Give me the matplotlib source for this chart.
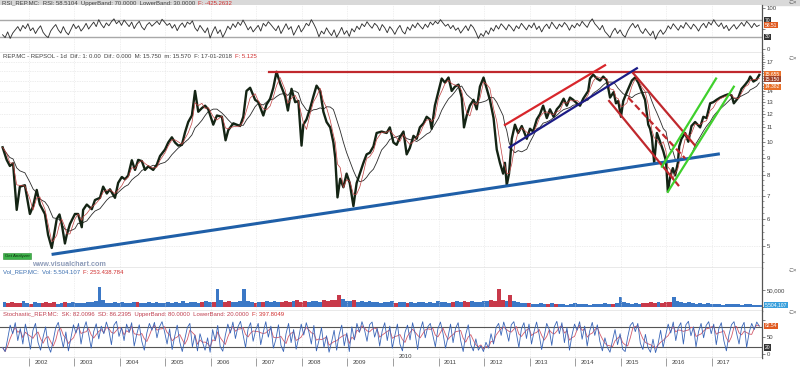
import numpy as np
import matplotlib
matplotlib.use("Agg")
import matplotlib.pyplot as plt
from matplotlib.ticker import FixedLocator, NullFormatter

plt.rcParams['font.family'] = ['Liberation Sans', 'DejaVu Sans']

# Cierre ajustado REPSOL, fecha en años decimales
dates = [2001.42, 2001.51, 2001.58, 2001.65, 2001.73, 2001.80, 2001.91, 2002.02, 2002.09, 2002.17,
         2002.24, 2002.35, 2002.42, 2002.50, 2002.53, 2002.61, 2002.67, 2002.72, 2002.79, 2002.83,
         2002.90, 2003.01, 2003.08, 2003.16, 2003.19, 2003.27, 2003.38, 2003.45, 2003.56, 2003.63,
         2003.71, 2003.78, 2003.89, 2003.96, 2004.04, 2004.11, 2004.18, 2004.26, 2004.33, 2004.40,
         2004.48, 2004.55, 2004.62, 2004.73, 2004.81, 2004.88, 2004.99, 2005.06, 2005.14, 2005.21,
         2005.28, 2005.36, 2005.43, 2005.50, 2005.58, 2005.65, 2005.72, 2005.80, 2005.87, 2005.94,
         2006.05, 2006.13, 2006.24, 2006.32, 2006.38, 2006.49, 2006.64, 2006.71, 2006.78, 2006.86,
         2006.97, 2007.04, 2007.15, 2007.22, 2007.30, 2007.37, 2007.44, 2007.52, 2007.63, 2007.69,
         2007.77, 2007.85, 2007.92, 2007.99, 2008.03, 2008.10, 2008.18, 2008.25, 2008.32, 2008.40,
         2008.47, 2008.54, 2008.62, 2008.69, 2008.73, 2008.78, 2008.84, 2008.91, 2008.98, 2009.05,
         2009.13, 2009.20, 2009.27, 2009.35, 2009.42, 2009.49, 2009.57, 2009.64, 2009.75, 2009.86,
         2009.93, 2010.01, 2010.08, 2010.15, 2010.23, 2010.30, 2010.37, 2010.45, 2010.52, 2010.59,
         2010.67, 2010.74, 2010.81, 2010.85, 2010.92, 2011.00, 2011.07, 2011.14, 2011.22, 2011.29,
         2011.36, 2011.44, 2011.51, 2011.56, 2011.62, 2011.69, 2011.77, 2011.84, 2011.91, 2011.99,
         2012.06, 2012.13, 2012.21, 2012.28, 2012.35, 2012.42, 2012.46, 2012.50, 2012.55, 2012.61,
         2012.68, 2012.75, 2012.83, 2012.94, 2013.01, 2013.08, 2013.16, 2013.23, 2013.30, 2013.38,
         2013.45, 2013.53, 2013.60, 2013.67, 2013.75, 2013.82, 2013.89, 2013.96, 2014.04, 2014.11,
         2014.18, 2014.29, 2014.33, 2014.40, 2014.48, 2014.55, 2014.62, 2014.70, 2014.77, 2014.85,
         2014.90, 2014.95, 2015.01, 2015.06, 2015.14, 2015.25, 2015.32, 2015.39, 2015.47, 2015.54,
         2015.61, 2015.65, 2015.69, 2015.74, 2015.80, 2015.87, 2015.94, 2016.00, 2016.04, 2016.09,
         2016.15, 2016.20, 2016.26, 2016.29, 2016.34, 2016.42, 2016.49, 2016.56, 2016.64, 2016.75,
         2016.82, 2016.89, 2016.97, 2017.04, 2017.11, 2017.19, 2017.30, 2017.37, 2017.44, 2017.49,
         2017.59, 2017.66, 2017.74, 2017.81, 2017.85, 2017.92, 2017.99, 2018.05]
close = [9.64, 8.87, 8.52, 8.67, 6.37, 7.43, 7.50, 6.20, 6.53, 7.27,
         6.60, 6.20, 5.40, 4.95, 5.20, 6.00, 6.18, 5.80, 5.10, 5.40,
         5.80, 6.20, 6.20, 5.68, 6.37, 6.60, 6.40, 6.80, 6.90, 7.43,
         7.10, 7.30, 6.90, 7.62, 7.92, 7.80, 8.00, 8.85, 8.30, 8.87,
         8.80, 8.30, 8.50, 8.30, 8.60, 9.10, 9.50, 9.95, 10.30, 9.95,
         9.75, 9.80, 10.65, 11.40, 11.90, 14.00, 12.20, 12.50, 12.70, 12.40,
         11.20, 11.90, 11.80, 10.10, 10.80, 11.30, 11.10, 11.80, 14.00, 14.30,
         13.20, 13.00, 11.90, 12.80, 13.30, 14.30, 15.90, 14.70, 13.50, 12.30,
         14.20, 13.00, 13.10, 9.75, 11.20, 11.60, 12.50, 13.50, 14.50, 14.00,
         12.20, 11.40, 11.00, 9.95, 9.00, 6.92, 7.83, 7.40, 8.10, 7.60,
         6.53, 7.60, 8.10, 8.70, 9.20, 9.30, 9.70, 10.60, 10.70, 10.60,
         11.00, 9.95, 9.80, 10.30, 10.70, 9.20, 9.60, 10.40, 10.20, 11.00,
         11.30, 11.80, 11.60, 10.90, 12.70, 14.00, 15.20, 14.80, 15.30, 14.00,
         14.40, 14.60, 13.40, 11.00, 11.90, 12.70, 13.20, 12.40, 14.40, 15.30,
         14.20, 13.20, 11.70, 9.50, 8.70, 8.10, 8.70, 7.50, 8.10, 10.20,
         11.20, 10.60, 11.10, 10.20, 10.90, 10.70, 11.60, 12.00, 12.70, 11.70,
         12.40, 11.80, 12.40, 12.70, 13.30, 12.70, 13.40, 13.20, 12.90, 12.70,
         13.30, 14.00, 15.20, 15.60, 15.20, 15.00, 15.40, 15.00, 13.40, 13.90,
         12.90, 13.10, 11.80, 13.10, 13.90, 15.00, 15.30, 14.80, 13.90, 13.20,
         11.20, 10.90, 10.30, 8.70, 10.60, 10.00, 9.40, 8.80, 7.20, 7.90,
         8.40, 8.00, 8.70, 9.70, 10.20, 10.60, 10.00, 11.10, 11.40, 11.00,
         11.80, 11.70, 12.90, 13.00, 13.20, 13.40, 13.60, 13.70, 13.60, 12.90,
         13.40, 14.20, 14.60, 15.00, 15.40, 14.90, 15.10, 15.57]

# RSI (muestreo regular 2001.42 - 2018.05)
rsi = [35, 28, 42, 26, 39, 47, 55, 44, 58, 50, 62, 45, 52, 38, 49, 57, 41, 33, 28, 44,
       53, 60, 47, 39, 55, 42, 35, 48, 61, 50, 57, 44, 52, 63, 49, 58, 66, 55, 72, 60,
       52, 64, 57, 67, 74, 62, 69, 58, 71, 63, 55, 66, 50, 61, 68, 54, 47, 59, 65, 56,
       62, 68, 60, 73, 66, 58, 63, 51, 60, 45, 57, 64, 53, 66, 61, 69, 52, 44, 58, 49,
       40, 52, 27, 43, 55, 38, 47, 29, 41, 56, 48, 62, 53, 66, 58, 71, 60, 47, 55, 42,
       50, 58, 44, 63, 56, 67, 60, 52, 45, 57, 38, 50, 62, 48, 55, 34, 46, 58, 42, 51,
       63, 57, 72, 61, 48, 30, 44, 37, 52, 41, 33, 47, 29, 40, 53, 36, 45, 31, 50, 42,
       56, 48, 62, 55, 67, 58, 51, 63, 57, 45, 60, 52, 40, 55, 47, 36, 49, 58, 43, 37,
       54, 46, 60, 52, 64, 56, 49, 61, 53, 66, 59, 68, 62, 72, 64, 56, 61, 50, 58, 46,
       52, 39, 48, 57, 45, 60, 53, 41, 26, 38, 31, 45, 36, 52, 44, 58, 49, 62, 55, 47,
       60, 53, 44, 57, 50, 63, 55, 47, 59, 52, 64, 48, 56, 42, 54, 61, 50, 66, 57, 49,
       61, 54, 65, 58, 46, 59, 52, 63, 56, 68, 60, 53, 66, 74, 62, 55, 47, 58, 43, 36,
       28, 42, 51, 38, 47, 35, 29, 44, 55, 63, 52, 60, 45, 38, 50, 41, 33, 44, 24, 38,
       47, 36, 44, 57, 49, 62, 54, 46, 58, 51, 65, 57, 49, 61, 54, 44, 56, 63, 52, 66,
       59, 72, 62, 55, 64, 50, 58, 45, 53, 60, 49, 57, 65, 56, 68, 61, 52, 63, 55, 58.5]

# Estocastico %K
stoch_k = [20, 8, 45, 85, 60, 92, 40, 75, 30, 88, 55, 15, 70, 90, 35, 12, 50, 80, 25, 6,
           40, 78, 93, 55, 20, 65, 10, 48, 86, 62, 90, 30, 72, 95, 58, 18, 66, 89, 45, 82,
           60, 94, 70, 28, 85, 96, 52, 78, 40, 88, 64, 92, 24, 58, 86, 38, 12, 62, 90, 70,
           93, 48, 80, 95, 66, 30, 74, 14, 52, 85, 36, 8, 44, 78, 90, 22, 56, 10, 60, 35,
           12, 48, 6, 72, 40, 84, 22, 9, 55, 88, 62, 94, 46, 80, 96, 58, 20, 74, 92, 38,
           70, 90, 28, 64, 95, 50, 82, 18, 44, 86, 26, 8, 60, 90, 34, 72, 15, 48, 88, 56,
           92, 66, 30, 84, 10, 40, 78, 20, 54, 6, 36, 70, 12, 58, 85, 25, 62, 8, 80, 42,
           90, 64, 95, 72, 38, 86, 94, 50, 76, 24, 68, 92, 40, 82, 18, 55, 88, 30, 10, 64,
           85, 42, 92, 60, 14, 70, 95, 48, 80, 90, 56, 22, 74, 94, 62, 18, 50, 88, 34, 76,
           92, 40, 8, 58, 86, 28, 10, 45, 12, 25, 8, 35, 18, 60, 30, 78, 90, 55, 94, 70,
           38, 86, 95, 62, 20, 74, 92, 46, 88, 30, 66, 94, 58, 14, 52, 90, 72, 26, 80, 96,
           60, 92, 34, 78, 12, 56, 88, 70, 95, 44, 82, 24, 68, 93, 55, 86, 38, 10, 48, 20,
           6, 40, 72, 28, 60, 15, 8, 50, 84, 93, 66, 90, 32, 14, 58, 20, 6, 44, 5, 30,
           70, 20, 55, 88, 62, 94, 40, 78, 92, 30, 86, 96, 54, 80, 22, 66, 90, 48, 84, 95,
           60, 88, 28, 74, 92, 40, 10, 56, 86, 95, 62, 30, 78, 93, 20, 64, 90, 72, 94, 82]

# Volumen mensual aproximado (millones de acciones)
volume = [14, 12, 16, 11, 13, 18, 12, 10, 15, 13, 11, 14, 12, 16, 10, 13, 15, 12, 14, 11,
          13, 12, 15, 14, 17, 58, 20, 13, 11, 14, 12, 15, 13, 11, 14, 16, 12, 13, 15, 12,
          14, 11, 13, 16, 12, 15, 13, 17, 12, 14, 16, 13, 15, 18, 14, 16, 52, 20, 15, 17,
          14, 16, 18, 52, 19, 15, 13, 16, 14, 17, 15, 19, 16, 14, 18, 15, 17, 20, 16, 18,
          15, 17, 19, 16, 21, 18, 22, 20, 34, 24, 19, 17, 20, 16, 18, 15, 17, 14, 16, 13,
          15, 14, 17, 13, 16, 14, 12, 15, 13, 16, 14, 12, 15, 13, 17, 14, 16, 13, 15, 17,
          16, 18, 15, 17, 14, 16, 19, 17, 20, 18, 53, 22, 19, 35, 18, 15, 13, 11, 12, 10,
          9, 11, 8, 10, 12, 9, 8, 10, 7, 9, 11, 8, 10, 9, 7, 8, 10, 9, 11, 8,
          10, 12, 30, 14, 11, 9, 12, 10, 13, 11, 14, 12, 15, 13, 16, 14, 28, 17, 15, 13,
          14, 12, 10, 11, 9, 12, 8, 10, 9, 7, 8, 10, 9, 8, 7, 9, 8, 6, 7, 5.5]

years = list(range(2002, 2018))
price_ticks = [5, 6, 7, 8, 9, 10, 11, 12, 13, 14, 15, 16, 17]

# lineas de tendencia dibujadas (fechas, precios)
soporte_largo = ([2002.53, 2017.15], [4.75, 9.22])
resistencia = ([2007.27, 2018.07], [15.85, 15.85])
canal_sup_rojo = ([2012.46, 2014.66], [11.18, 16.6])
canal_inf_azul = ([2012.56, 2015.36], [9.64, 16.27])
bajista_sup = ([2015.28, 2016.64], [15.74, 9.75])
bajista_inf = ([2014.75, 2016.27], [13.1, 7.5])
bajista_media = ([2015.17, 2016.42], [13.4, 8.96])
alcista_sup = ([2015.91, 2017.10], [8.48, 15.2])
alcista_inf = ([2016.04, 2017.49], [7.18, 14.4])

d = np.array(dates)
c = np.array(close)


def sma(win):
    return np.array([c[(d > t - win) & (d <= t)].mean() for t in d])


ma_fast = sma(0.15)
ma_slow = sma(0.55)

t0, t1 = 2001.42, 2018.05
t_rsi = np.linspace(t0, t1, len(rsi))
t_sto = np.linspace(t0, t1, len(stoch_k))
t_vol = np.linspace(t0, t1, len(volume))
rsi_a = np.array(rsi, dtype=float)
k = np.array(stoch_k, dtype=float)
dline = np.convolve(k, np.ones(3) / 3, mode='full')[:len(k)]
dline[:2] = k[:2]
vol = np.array(volume) * 1000.0  # miles de acciones
step = t_vol[1] - t_vol[0]
p_now = np.interp(t_vol, d, c)
p_prev = np.interp(t_vol - step, d, c)
vol_colors = np.where((p_now - p_prev) / p_prev < -0.04, '#c8394a', '#3b78c6')

XL = (2001.363, 2018.103)
H = 367.0
W = 800.0
axw = 761.7 / W
fs = 4.3
txtc = '#404040'


def panel(y_top, y_bot):
    return fig.add_axes([0, 1 - y_bot / H, axw, (y_bot - y_top) / H])


def header(ax, x, y, parts, transform):
    # textos encadenados, uno detras de otro
    prev = ax.text(x, y, parts[0][0], transform=transform, fontsize=fs, color=parts[0][1],
                   va='top', ha='left', clip_on=False, zorder=20)
    for s, col in parts[1:]:
        prev = ax.annotate(s, xy=(1, 0), xycoords=prev, fontsize=fs, color=col,
                           va='bottom', ha='left', annotation_clip=False, zorder=20)
    return prev


def side_box(ax, val, lab, col):
    ax.text(1.004, val, lab, transform=ax.get_yaxis_transform(), fontsize=3.6, color='white',
            va='center', ha='left', clip_on=False, zorder=10,
            bbox=dict(boxstyle='square,pad=0.15', fc=col, ec='none'))


fig = plt.figure(figsize=(8, 3.67), dpi=100)
fig.patch.set_facecolor('white')

# barra gris superior (detras de todo)
fig.patches.append(plt.Rectangle((0, 1 - 5 / H), 1, 5 / H, transform=fig.transFigure,
                                 color='#d9d9d9', zorder=-5))

ax_rsi = panel(5, 53)
ax_p = panel(53, 268.3)
ax_v = panel(268.3, 310.7)
ax_s = panel(310.7, 357.7)
ax_d = panel(357.7, 367)

for ax in (ax_rsi, ax_p, ax_v, ax_s, ax_d):
    ax.set_xlim(*XL)
    ax.yaxis.tick_right()
    ax.xaxis.set_major_locator(FixedLocator(years))
    ax.xaxis.set_major_formatter(NullFormatter())
    ax.tick_params(axis='x', length=0)
    ax.tick_params(axis='y', labelsize=fs, labelcolor=txtc, length=2, width=0.5,
                   colors='#555555', pad=1.5)
    for s in ('left', 'top'):
        ax.spines[s].set_visible(False)
    for s in ('right', 'bottom'):
        ax.spines[s].set_color('#555555')
        ax.spines[s].set_linewidth(0.9)
    ax.grid(axis='x', color='#e2e2e2', lw=0.5, ls=(0, (1, 1.5)))

# ---- RSI ----
ax_rsi.set_ylim(-9.8, 108)
ax_rsi.axhline(70, color='#a8a8a8', lw=1.0)
ax_rsi.axhline(30, color='#a8a8a8', lw=1.0)
ax_rsi.plot(t_rsi, rsi_a, color='#333333', lw=0.65)
ax_rsi.plot(t_rsi, np.where(rsi_a >= 68, rsi_a, np.nan), color='#3d92cc', lw=0.7)
ax_rsi.plot(t_rsi, np.where(rsi_a <= 31, rsi_a, np.nan), color='#cc3333', lw=0.7)
ax_rsi.set_yticks([0, 50, 100])
ax_rsi.set_yticklabels(['0', '', '100'])
side_box(ax_rsi, 70, '70', '#333333')
side_box(ax_rsi, 58.5, '58.51', '#e05a20')
side_box(ax_rsi, 30, '30', '#333333')
header(ax_rsi, 0.002, 1 + 4.3 / 48,
       [('RSI_REP.MC:  RSI: 58.5104  UpperBand: 70.0000  LowerBand: 30.0000  ', txtc),
        ('F: -425.2632', '#d03030')], ax_rsi.transAxes)

# ---- Precio ----
ax_p.set_yscale('log')
ax_p.set_ylim(4.327, 18.0)
ax_p.yaxis.set_major_locator(FixedLocator(price_ticks))
ax_p.yaxis.set_major_formatter(plt.FuncFormatter(lambda v, p: '' if v in (15, 16) else '%d' % v))
ax_p.yaxis.set_minor_locator(FixedLocator(np.arange(4.5, 18, 0.25)))
ax_p.yaxis.set_minor_formatter(NullFormatter())
ax_p.tick_params(axis='y', which='minor', length=1.2, width=0.4, colors='#555555')
ax_p.grid(axis='y', which='major', color='#dcdcdc', lw=0.5, ls=(0, (1, 1.5)))
ax_p.plot(d, ma_slow, color='#2a2a2a', lw=0.6, zorder=3)
ax_p.plot(d, c, color='#142414', lw=1.7, zorder=4)
ax_p.plot(d, ma_fast, color='#c04040', lw=0.5, zorder=5)

ax_p.plot(*soporte_largo, color='#1f5fa8', lw=2.2, zorder=6)
ax_p.plot(*resistencia, color='#c0282d', lw=1.6, zorder=6)
ax_p.plot(*canal_sup_rojo, color='#d8262b', lw=1.6, zorder=6)
ax_p.plot(*canal_inf_azul, color='#1c1c86', lw=1.6, zorder=6)
ax_p.plot(*bajista_sup, color='#c0282d', lw=1.6, zorder=6)
ax_p.plot(*bajista_inf, color='#c0282d', lw=1.6, zorder=6)
ax_p.plot(*bajista_media, color='#c0282d', lw=1.6, ls=(0, (3, 1.5)), zorder=6)
ax_p.plot(*alcista_sup, color='#3fd02c', lw=1.6, zorder=6)
ax_p.plot(*alcista_inf, color='#3fd02c', lw=1.6, zorder=6)

side_box(ax_p, 15.655, '15.655', '#e8702a')
side_box(ax_p, 15.15, '15.150', '#a0442a')
side_box(ax_p, 14.382, '14.382', '#e8702a')

header(ax_p, 0.004, 0.995,
       [('REP.MC - REPSOL - 1d  Dif.: 1: 0.00  Dif.: 0.000  M: 15.750  m: 15.570  F: 17-01-2018  ', txtc),
        ('F: 5.125', '#d03030')], ax_p.transAxes)
ax_p.text(0.006, 0.058, 'Get Analyzer', transform=ax_p.transAxes, fontsize=3.2,
          color='#103010', va='center', ha='left',
          bbox=dict(boxstyle='square,pad=0.25', fc='#3db24a', ec='#2a8a30', lw=0.4))
ax_p.text(0.042, 0.018, 'www.visualchart.com', transform=ax_p.transAxes, fontsize=5.2,
          color='#8d9bb8', va='center', ha='left', fontweight='bold')

# ---- Volumen ----
ax_v.set_ylim(-10900, 113800)
ax_v.bar(t_vol, vol, width=step, color=vol_colors, lw=0, align='edge')
ax_v.set_yticks([0, 50000])
ax_v.set_yticklabels(['', '50,000'])
side_box(ax_v, 5504, '5,504,107', '#3aa0dc')
header(ax_v, 0.004, 0.97,
       [('Vol_REP.MC:  Vol: 5.504.107  ', '#3b6fb0'), ('F: 253.438.784', '#d03030')],
       ax_v.transAxes)

# ---- Estocastico ----
ax_s.set_ylim(-9.9, 127)
ax_s.axhline(80, color='#555555', lw=0.8)
ax_s.axhline(20, color='#555555', lw=0.8)
ax_s.plot(t_sto, dline, color='#d35a6a', lw=0.6)
ax_s.plot(t_sto, k, color='#3a66b8', lw=0.6)
ax_s.set_yticks([0, 50, 100])
ax_s.set_yticklabels(['0', '50', ''])
side_box(ax_s, 82.5, '82.54', '#e05a20')
side_box(ax_s, 20, '20', '#333333')
header(ax_s, 0.004, 0.97,
       [('Stochastic_REP.MC:  SK: 82.0096  SD: 86.2395  UpperBand: 80.0000  LowerBand: 20.0000  ', '#c04050'),
        ('F: 397.8049', '#d03030')], ax_s.transAxes)

# ---- eje de fechas ----
ax_d.set_ylim(0, 1)
ax_d.set_yticks([])
ax_d.spines['right'].set_visible(False)
ax_d.spines['bottom'].set_visible(False)
ax_d.tick_params(axis='x', direction='in', length=6, width=0.5, colors='#777777', top=True,
                 bottom=False)
ax_d.grid(False)
for yr in years:
    if yr == 2010:
        ax_s.text(yr + 0.12, 0.0, str(yr), fontsize=fs, color=txtc, va='top', ha='left')
    else:
        ax_d.text(yr + 0.12, 0.45, str(yr), fontsize=fs, color=txtc, va='center', ha='left')

# botones de ventana
for yb in (2.6, 58.5, 270.5, 312.5):
    fig.text(0.997, 1 - yb / H, '-□×', fontsize=4, color='#555555', va='center', ha='right')

fig.savefig('out.png', dpi=100, facecolor='white')
